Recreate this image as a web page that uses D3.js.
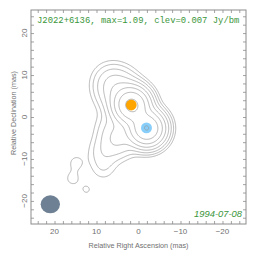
<!DOCTYPE html>
<html>
<head>
<meta charset="utf-8">
<script src="https://cdn.jsdelivr.net/npm/d3@7"></script>
<style>
  body { margin: 0; background: #fff; }
  svg { display: block; }
</style>
</head>
<body>
<script>
const width = 264;
const height = 262;
const margin = { top: 10, right: 18, bottom: 38, left: 31 };

const titleText = "J2022+6136, max=1.09, clev=0.007 Jy/bm";
const epoch = "1994-07-08";

// contour levels: clev * 2^n
const levels = [0.007, 0.014, 0.028, 0.056, 0.112, 0.224, 0.448, 0.896];

// image-plane gaussian components (mas, Jy/bm)
const compX = [1.7, -1.9, 5.0, 7.0, 6.5, 5.0, 8.5, 8.5, 15.0, 15.8, 12.5];
const compY = [2.9, -2.6, 6.5, 9.0, -1.5, -5.0, -8.5, -12.2, -10.8, -14.6, -17.2];
const compAmp = [1.07, 0.905, 0.09, 0.02, 0.012, 0.06, 0.018, 0.01, 0.0092, 0.0092, 0.0078];
const compSig = [2.2, 2.2, 2.8, 2.5, 2.5, 2.6, 2.3, 2.0, 1.5, 1.5, 1.3];

// model components drawn as circles
const markX = [1.74, -1.9];
const markY = [2.86, -2.6];
const markColor = ["#ffa500", "#87cefa"];

// beam
const beam = { x: 21, y: -20.8, major: 4.6, minor: 4.3 };

const xTicks = [20, 10, 0, -10, -20];
const yTicks = [20, 10, 0, -10, -20];

const svg = d3.select("body").append("svg")
    .attr("width", width)
    .attr("height", height);

let x = d3.scaleLinear([25.6, -25.6], [margin.left, width - margin.right]);
let y = d3.scaleLinear([-25.5, 25.5], [height - margin.bottom, margin.top]);

// build grid of summed gaussians
const step = 0.2;
const x0 = 25.6, y0 = 25.5;
const nx = Math.round(51.2 / step) + 1;
const ny = Math.round(51 / step) + 1;
const values = new Float64Array(nx * ny);
for (let j = 0; j < ny; j++) {
    const yy = y0 - j * step;
    for (let i = 0; i < nx; i++) {
        const xx = x0 - i * step;
        let v = 0;
        for (let k = 0; k < compX.length; k++) {
            const dx = xx - compX[k], dy = yy - compY[k];
            v += compAmp[k] * Math.exp(-(dx * dx + dy * dy) / (2 * compSig[k] * compSig[k]));
        }
        values[j * nx + i] = v;
    }
}

const contours = d3.contours().size([nx, ny]).thresholds(levels)(values);

const proj = d3.geoTransform({
    point: function (px, py) {
        this.stream.point(x(x0 - px * step), y(y0 - py * step));
    }
});

svg.append("clipPath").attr("id", "plotclip")
    .append("rect")
    .attr("x", x.range()[0]).attr("y", y.range()[1])
    .attr("width", x.range()[1] - x.range()[0])
    .attr("height", y.range()[0] - y.range()[1]);

// model components
svg.append("g")
    .selectAll("circle")
    .data(markX)
    .join("circle")
    .attr("cx", d => x(d))
    .attr("cy", (d, i) => y(markY[i]))
    .attr("r", x(0) - x(1.3))
    .attr("fill", (d, i) => markColor[i]);

svg.append("g")
    .attr("clip-path", "url(#plotclip)")
    .attr("fill", "none")
    .attr("stroke", "#999")
    .attr("stroke-width", 0.7)
    .selectAll("path")
    .data(contours)
    .join("path")
    .attr("d", d3.geoPath(proj));

// beam
svg.append("ellipse")
    .attr("cx", x(beam.x))
    .attr("cy", y(beam.y))
    .attr("rx", (x(0) - x(beam.major)) / 2)
    .attr("ry", (y(0) - y(beam.minor)) / 2)
    .attr("fill", "#6e8093");

// frame and ticks
const frameColor = "#8c8c8c";
const minor = d3.range(-24, 25, 2);

function ticks(g, scale, orient) {
    g.call(orient(scale).tickValues(minor).tickSize(-3).tickFormat(""))
        .call(g => g.select(".domain").remove())
        .call(g => g.selectAll("line").attr("stroke", frameColor).attr("stroke-width", 0.8));
}

svg.append("g").attr("transform", `translate(0,${y.range()[0]})`).call(g => ticks(g, x, d3.axisBottom));
svg.append("g").attr("transform", `translate(0,${y.range()[1]})`).call(g => ticks(g, x, d3.axisTop));
svg.append("g").attr("transform", `translate(${x.range()[0]},0)`).call(g => ticks(g, y, d3.axisLeft));
svg.append("g").attr("transform", `translate(${x.range()[1]},0)`).call(g => ticks(g, y, d3.axisRight));

svg.append("rect")
    .attr("x", x.range()[0]).attr("y", y.range()[1])
    .attr("width", x.range()[1] - x.range()[0])
    .attr("height", y.range()[0] - y.range()[1])
    .attr("fill", "none")
    .attr("stroke", frameColor)
    .attr("stroke-width", 1);

const labelFont = "Liberation Sans, Arial, sans-serif";
const labelColor = "#707070";

// tick labels
svg.append("g")
    .selectAll("text")
    .data(xTicks)
    .join("text")
    .attr("x", d => x(d))
    .attr("y", y.range()[0] + 10)
    .attr("text-anchor", "middle")
    .attr("font-family", labelFont)
    .attr("font-size", 8)
    .attr("fill", labelColor)
    .text(d => d < 0 ? "\u2212" + Math.abs(d) : d);

svg.append("g")
    .selectAll("text")
    .data(yTicks)
    .join("text")
    .attr("transform", d => `translate(${x.range()[0] - 4},${y(d)}) rotate(-90)`)
    .attr("text-anchor", "middle")
    .attr("font-family", labelFont)
    .attr("font-size", 8)
    .attr("fill", labelColor)
    .text(d => d < 0 ? "\u2212" + Math.abs(d) : d);

// axis titles
svg.append("text")
    .attr("x", x(0))
    .attr("y", 248)
    .attr("text-anchor", "middle")
    .attr("font-family", labelFont)
    .attr("font-size", 7.2)
    .attr("fill", labelColor)
    .text("Relative Right Ascension (mas)");

svg.append("text")
    .attr("transform", `translate(16,${y(0) - 4}) rotate(-90)`)
    .attr("text-anchor", "middle")
    .attr("font-family", labelFont)
    .attr("font-size", 7.2)
    .attr("fill", labelColor)
    .text("Relative Declination (mas)");

// title and epoch
svg.append("text")
    .attr("x", 37)
    .attr("y", 22.5)
    .attr("font-family", "Liberation Mono, Courier New, monospace")
    .attr("font-size", 8.9)
    .attr("fill", "#3a963a")
    .text(titleText);

svg.append("text")
    .attr("x", 242)
    .attr("y", 217)
    .attr("text-anchor", "end")
    .attr("font-family", labelFont)
    .attr("font-style", "italic")
    .attr("font-size", 9.4)
    .attr("fill", "#3a963a")
    .text(epoch);
</script>
</body>
</html>
